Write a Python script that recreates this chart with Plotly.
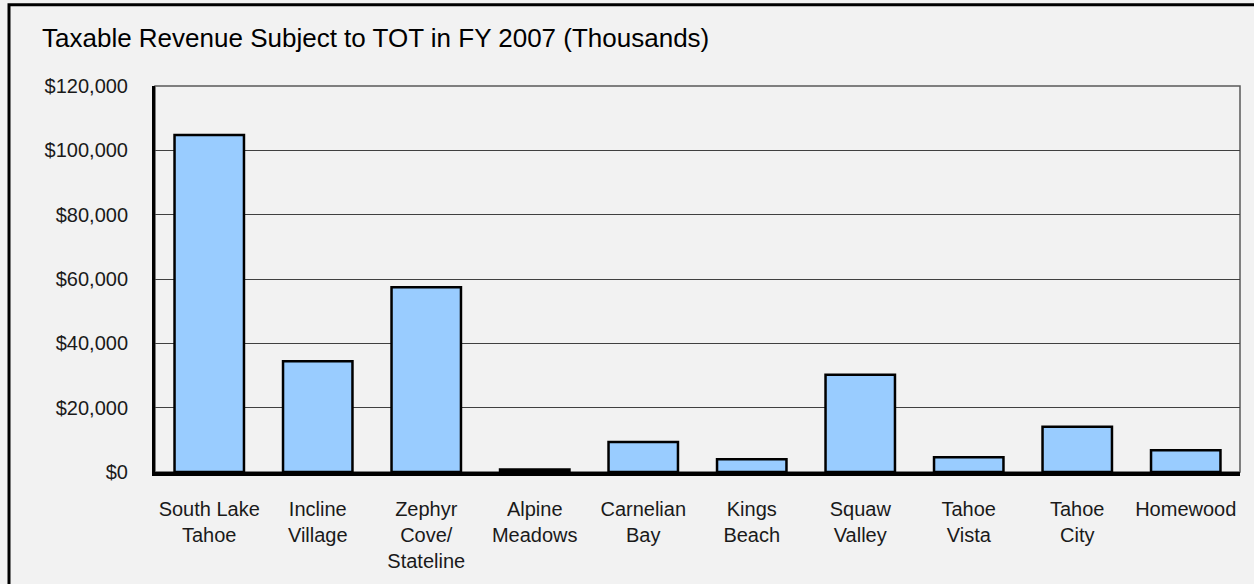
import plotly.graph_objects as go

categories = ["South Lake Tahoe", "Incline Village", "Zephyr Cove/Stateline",
              "Alpine Meadows", "Carnelian Bay", "Kings Beach", "Squaw Valley",
              "Tahoe Vista", "Tahoe City", "Homewood"]
category_labels = ["South Lake<br>Tahoe", "Incline<br>Village", "Zephyr<br>Cove/<br>Stateline",
                   "Alpine<br>Meadows", "Carnelian<br>Bay", "Kings<br>Beach", "Squaw<br>Valley",
                   "Tahoe<br>Vista", "Tahoe<br>City", "Homewood"]
revenue = [104800, 34400, 57400, 800, 9300, 4000, 30200, 4600, 14100, 6800]
tick_values = [0, 20000, 40000, 60000, 80000, 100000, 120000]
tick_labels = ["$0", "$20,000", "$40,000", "$60,000", "$80,000", "$100,000", "$120,000"]
title_text = "Taxable Revenue Subject to TOT in FY 2007 (Thousands)"

W, H = 1254, 584
L, R, T, B = 155, 14, 86, 108
FONT = "Liberation Sans, Arial, sans-serif"

fig = go.Figure(go.Bar(
    x=categories, y=revenue,
    marker=dict(color="#99CCFF", line=dict(color="#000000", width=2.5)),
    hoverinfo="x+y",
))

pw = W - L - R
ph = H - T - B

fig.update_layout(
    width=W, height=H,
    margin=dict(l=L, r=R, t=T, b=B, pad=0),
    paper_bgcolor="#f2f2f2",
    plot_bgcolor="#f2f2f2",
    bargap=0.36,
    showlegend=False,
    title=dict(text=title_text, x=42 / W, xref="container", xanchor="left",
               y=1 - 38 / H, yref="container", yanchor="middle",
               font=dict(family=FONT, size=26, color="#000000")),
    font=dict(family=FONT, size=20, color="#1a1a1a"),
    xaxis=dict(tickvals=categories, ticktext=category_labels,
               showgrid=False, showline=True, linecolor="#000000", linewidth=4,
               ticks="", ticklabelstandoff=16, tickfont=dict(size=20, color="#1a1a1a"),
               fixedrange=True),
    yaxis=dict(range=[0, 120000], tickvals=tick_values, ticktext=tick_labels,
               showgrid=True, gridcolor="#404040", gridwidth=1,
               showline=True, linecolor="#000000", linewidth=3,
               zeroline=False, ticks="", ticklabelstandoff=20,
               tickfont=dict(size=20, color="#1a1a1a"), fixedrange=True),
    shapes=[
        dict(type="rect", xref="paper", yref="paper", x0=0, x1=1, y0=0, y1=1,
             line=dict(color="#5a5a5a", width=1.5), layer="below"),
        dict(type="rect", xref="paper", yref="paper",
             x0=(9 - L) / pw, x1=(W + 20 - L) / pw,
             y0=-(B + 20) / ph, y1=1 + (T - 4) / ph,
             line=dict(color="#000000", width=3), layer="above"),
    ],
)

fig.write_html("out.html", config={"displayModeBar": False},
               post_script="document.body.style.margin='0';document.body.style.background='#f2f2f2';")
